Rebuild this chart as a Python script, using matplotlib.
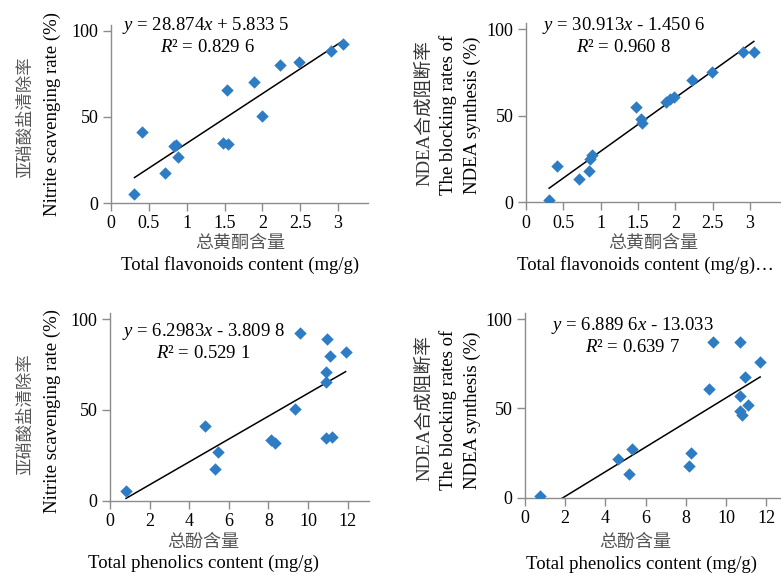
import numpy as np
import matplotlib.pyplot as plt

plt.rcParams['mathtext.fontset'] = 'custom'
plt.rcParams['mathtext.rm'] = 'Liberation Serif'
plt.rcParams['mathtext.it'] = 'Liberation Serif:italic'

# flavonoids (mg/g) vs nitrite scavenging / NDEA blocking
flav_x1 = [0.31, 0.41, 0.71, 0.83, 0.86, 0.88, 1.48, 1.54, 1.53, 1.89, 1.99, 2.23, 2.49, 2.91, 3.06]
nitrite_y1 = [5.0, 41.3, 17.4, 33.0, 33.8, 26.6, 35.1, 34.3, 65.9, 70.5, 50.8, 80.0, 82.2, 88.6, 92.2]
flav_x2 = [0.31, 0.41, 0.71, 0.84, 0.86, 0.88, 1.47, 1.54, 1.55, 1.88, 1.93, 1.98, 2.22, 2.49, 2.90, 3.05]
ndea_y2 = [1.2, 21.2, 13.3, 18.1, 25.2, 27.3, 55.2, 48.1, 46.0, 57.9, 59.6, 61.0, 70.6, 75.2, 86.7, 86.7]

# phenolics (mg/g)
phen_x3 = [0.81, 4.8, 5.32, 5.47, 8.15, 8.35, 9.34, 9.6, 10.9, 11.2, 10.95, 10.9, 10.9, 11.1, 11.9]
nitrite_y3 = [5.1, 41.0, 17.3, 26.7, 33.5, 32.0, 50.7, 92.3, 34.4, 35.1, 89.0, 71.0, 65.6, 80.0, 82.0]
phen_x4 = [0.76, 4.61, 5.15, 5.31, 8.15, 8.25, 9.13, 9.35, 10.7, 10.7, 10.7, 10.79, 10.95, 11.07, 11.7]
ndea_y4 = [0.9, 21.5, 13.2, 27.2, 17.9, 25.2, 60.6, 87.3, 87.3, 57.0, 48.3, 46.3, 67.5, 52.0, 76.1]

fits = [(28.874, 5.8335), (30.913, -1.4506), (6.2983, -3.8098), (6.8896, -13.033)]
eq_texts = [(r'$y$ = 28.874$x$ + 5.833 5', r'$R$² = 0.829 6'),
            (r'$y$ = 30.913$x$ - 1.450 6', r'$R$² = 0.960 8'),
            (r'$y$ = 6.2983$x$ - 3.809 8', r'$R$² = 0.529 1'),
            (r'$y$ = 6.889 6$x$ - 13.033', r'$R$² = 0.639 7')]

W, H = 781, 575
fig = plt.figure(figsize=(W / 100, H / 100), dpi=100)

serif = 'Liberation Serif'
cjk = ['Noto Sans CJK SC', 'DejaVu Sans']
blue = '#2E7CC4'
grey = '#8c8c8c'
cn_col = '#555555'


def px(x, y):
    return x / W, 1 - y / H


def add_panel(x0, y100, y0, ppu_x, xmax, xticks, xs, ys, fit, eq, eqpos):
    # axis placed so that x=0 sits at x0 px, y=0 at y0 px, y=100 at y100 px
    ppu_y = (y0 - y100) / 100.0
    ytop = 103.5
    left, bottom = px(x0, y0)
    w = xmax * ppu_x / W
    h = ytop * ppu_y / H
    ax = fig.add_axes([left, bottom, w, h])
    ax.scatter(xs, ys, marker='D', s=40, color=blue, zorder=3, linewidths=0)
    xl = np.array([min(xs), max(xs)])
    ax.plot(xl, fit[0] * xl + fit[1], color='black', lw=1.1, zorder=2)
    ax.set_xlim(0, xmax)
    ax.set_ylim(0, ytop)
    ax.set_xticks(xticks)
    ax.set_xticklabels([('%g' % t) for t in xticks])
    ax.set_yticks([0, 50, 100])
    for s in ['top', 'right']:
        ax.spines[s].set_visible(False)
    for s in ['left', 'bottom']:
        ax.spines[s].set_color(grey)
        ax.spines[s].set_linewidth(1.0)
    ax.tick_params(direction='out', length=6, width=1.0, color=grey,
                   labelsize=13, pad=3)
    for lab in ax.get_xticklabels() + ax.get_yticklabels():
        lab.set_fontfamily(serif)
    ax.patch.set_alpha(0)
    fig.text(*px(*eqpos[0]), eq[0], ha='center', va='center', fontsize=13.5, family=serif)
    fig.text(*px(*eqpos[1]), eq[1], ha='center', va='center', fontsize=13.5, family=serif)
    return ax


add_panel(111, 31, 203, 75.7, 3.4, [0, 0.5, 1, 1.5, 2, 2.5, 3], flav_x1, nitrite_y1,
          fits[0], eq_texts[0], [(206, 25), (207, 47)])
add_panel(526, 29, 202.3, 74.7, 3.5, [0, 0.5, 1, 1.5, 2, 2.5, 3], flav_x2, ndea_y2,
          fits[1], eq_texts[1], [(623, 25), (623, 47)])
add_panel(110, 319.3, 500.7, 19.8, 13.1, [0, 2, 4, 6, 8, 10, 12], phen_x3, nitrite_y3,
          fits[2], eq_texts[2], [(203, 332), (203, 353)])
add_panel(525, 319, 497.7, 20.1, 13.0, [0, 2, 4, 6, 8, 10, 12], phen_x4, ndea_y4,
          fits[3], eq_texts[3], [(632, 325), (632, 347)])

# x axis labels
fig.text(*px(240, 243), '总黄酮含量', ha='center', va='center', fontsize=13, family=cjk, color=cn_col)
fig.text(*px(240, 265), 'Total flavonoids content (mg/g)', ha='center', va='center', fontsize=13.5, family=serif)
fig.text(*px(653, 243), '总黄酮含量', ha='center', va='center', fontsize=13, family=cjk, color=cn_col)
fig.text(*px(645, 265), 'Total flavonoids content (mg/g)…', ha='center', va='center', fontsize=13.5, family=serif)
fig.text(*px(203, 542), '总酚含量', ha='center', va='center', fontsize=13, family=cjk, color=cn_col)
fig.text(*px(203, 563), 'Total phenolics content (mg/g)', ha='center', va='center', fontsize=13.5, family=serif)
fig.text(*px(635, 542), '总酚含量', ha='center', va='center', fontsize=13, family=cjk, color=cn_col)
fig.text(*px(642, 564), 'Total phenolics content (mg/g)', ha='center', va='center', fontsize=13.5, family=serif)

# y axis labels
for yc in [117, 414]:
    fig.text(*px(25, yc), '亚硝酸盐清除率', rotation=90, ha='center', va='center', fontsize=12.5, family=cjk, color=cn_col)
    fig.text(*px(52, yc - 3), 'Nitrite scavenging rate (%)', rotation=90, ha='center', va='center', fontsize=13.5, family=serif)
for yc in [113, 408]:
    fig.text(*px(425, yc), 'NDEA合成阻断率', rotation=90, ha='center', va='center', fontsize=13.5, family=[serif, 'Noto Sans CJK SC'], color='#333333')
    fig.text(*px(448, yc + 2), 'The blocking rates of', rotation=90, ha='center', va='center', fontsize=13.5, family=serif)
    fig.text(*px(472, yc + 2), 'NDEA synthesis (%)', rotation=90, ha='center', va='center', fontsize=13.5, family=serif)

fig.savefig('out.png', dpi=100)
